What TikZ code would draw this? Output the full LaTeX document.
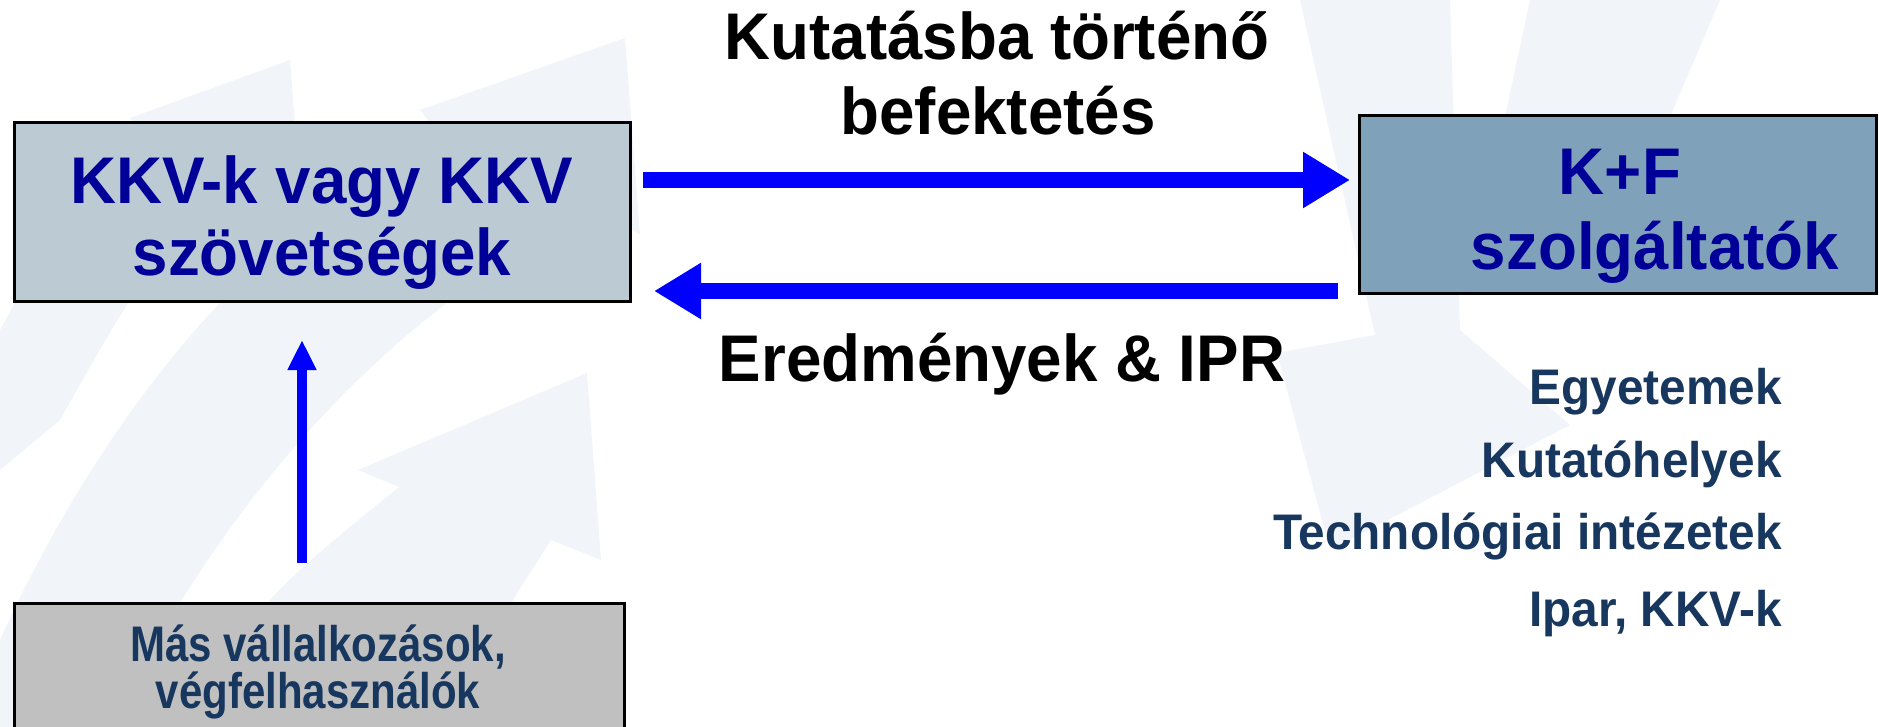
\documentclass[tikz,border=0pt]{standalone}
\usepackage{fontspec}
\setmainfont{Liberation Sans}
\newfontfamily\bigfont[FakeStretch=0.965]{Liberation Sans}
\newfontfamily\listfont[FakeStretch=0.955]{Liberation Sans}
\newfontfamily\narrowfont[FakeStretch=0.84]{Liberation Sans}
\usetikzlibrary{arrows.meta,calc}
\definecolor{wm}{RGB}{241,245,250}
\definecolor{lboxc}{RGB}{188,202,212}
\definecolor{rboxc}{RGB}{127,162,186}
\definecolor{gboxc}{RGB}{192,192,192}
\definecolor{kkvblue}{RGB}{0,0,153}
\definecolor{navy}{RGB}{23,55,94}
\definecolor{arr}{RGB}{0,0,255}
\begin{document}
\begin{tikzpicture}[x=0.5pt,y=-0.5pt,
  box/.style={draw=black,line width=1.5pt,inner sep=0pt,outer sep=0pt},
  bigtxt/.style={font=\bigfont\fontsize{33}{36}\selectfont\bfseries,inner sep=0pt,anchor=base},
  boxtext/.style={bigtxt,text=kkvblue},
  listtxt/.style={font=\listfont\fontsize{25}{28}\selectfont\bfseries,text=navy,inner sep=0pt,anchor=base east},
  smalltxt/.style={font=\narrowfont\fontsize{25}{27}\selectfont\bfseries,text=navy,inner sep=0pt,anchor=base},
  flow/.style={draw=arr,line width=7.8pt,-{Triangle[length=23.5pt,width=26.5pt]}},
  upflow/.style={draw=arr,line width=5pt,-{Triangle[length=15pt,width=13.5pt]}}]
\clip (0,0) rectangle (1879,727);
\fill[white] (0,0) rectangle (1879,727);
% faint watermark
\fill[wm] (190,727) .. controls (260,600) .. (399,487) -- (358,470) -- (587,373) -- (601,560) -- (551,540) .. controls (500,620) .. (440,727) -- cycle;
\fill[wm] (0,640) .. controls (100,420) and (250,230) .. (440,135) -- (420,110) -- (625,38) -- (640,235) -- (600,205) .. controls (420,300) and (250,450) .. (110,727) -- (0,727) -- cycle;
\fill[wm] (0,330) .. controls (60,220) .. (150,140) -- (130,118) -- (290,60) -- (300,190) -- (265,165) .. controls (150,260) .. (60,420) -- (0,470) -- cycle;
\fill[wm] (1300,0) -- (1450,0) -- (1460,330) -- (1570,425) -- (1330,550) -- (1277,353) -- (1375,335) -- cycle;
\fill[wm] (1530,0) -- (1720,0) -- (1660,140) -- (1500,140) -- cycle;
% boxes
\node[box,fill=lboxc,minimum width=308pt,minimum height=89.5pt] (kkv) at (322,212.5) {};
\node[box,fill=rboxc,minimum width=258.5pt,minimum height=89pt] (kf) at (1617.5,205) {};
\node[box,fill=gboxc,minimum width=305pt,minimum height=78.5pt] (mas) at (319,681.5) {};
% connectors
\draw[flow] ([shift={(13,-32.5)}]kkv.east) -- ([shift={(-9,-25)}]kf.west);
\draw[flow] ([shift={(-21,86)}]kf.west) -- ([shift={(24,78.5)}]kkv.east);
\draw[upflow] ([shift={(-17,-40)}]mas.north) -- ([shift={(-20,38)}]kkv.south);
% texts
\node[boxtext] (kkv1) at (322,204) {KKV-k vagy KKV};
\node[boxtext] (kkv2) at (322,276) {szövetségek};
\node[boxtext] (kf1) at (1620,195) {K+F};
\node[boxtext] (kf2) at (1655,270) {szolgáltatók};
\node[bigtxt] (inv1) at (997,60) {Kutatásba történő};
\node[bigtxt] (inv2) at (998,135) {befektetés};
\node[bigtxt] (res) at (1002,381) {Eredmények \& IPR};
\node[listtxt] (l1) at (1782,404) {Egyetemek};
\node[listtxt] (l2) at (1782,477) {Kutatóhelyek};
\node[listtxt] (l3) at (1782,549) {Technológiai intézetek};
\node[listtxt] (l4) at (1782,626) {Ipar, KKV-k};
\node[smalltxt] (m1) at (318,661) {Más vállalkozások,};
\node[smalltxt] (m2) at (318,708) {végfelhasználók};
\end{tikzpicture}
\end{document}
